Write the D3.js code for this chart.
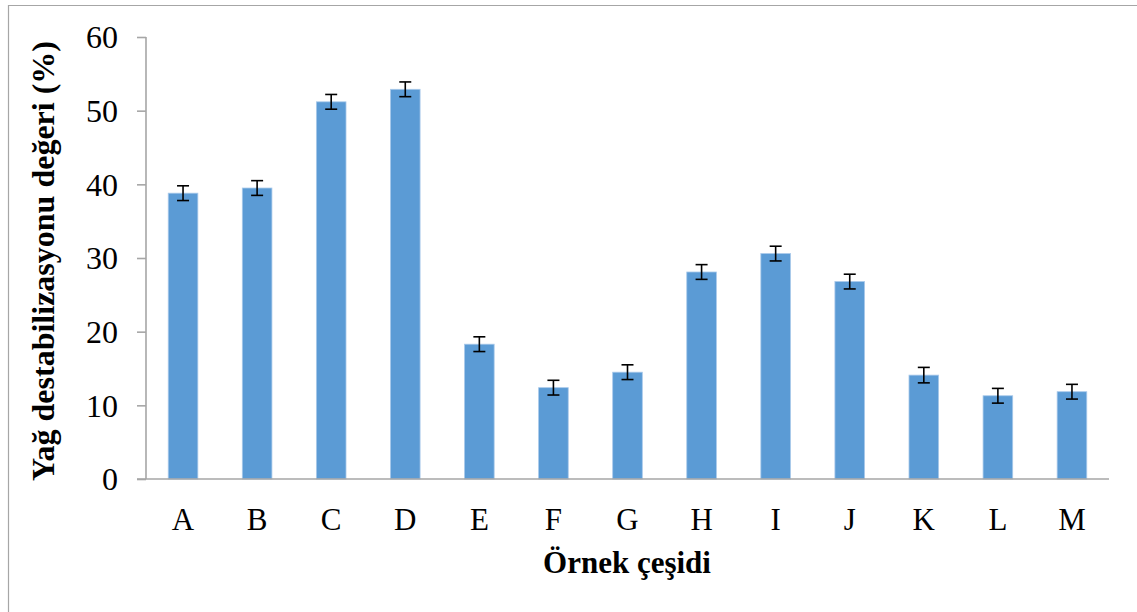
<!DOCTYPE html>
<html>
<head>
<meta charset="utf-8">
<script src="https://cdn.jsdelivr.net/npm/d3@7"></script>
<style>
  html, body { margin: 0; padding: 0; background: #fff; }
  svg { display: block; }
  text { font-family: "Liberation Serif", "Times New Roman", serif; fill: #000; }
</style>
</head>
<body>
<svg id="chart" width="1137" height="612"></svg>
<script>
const categories = ["A","B","C","D","E","F","G","H","I","J","K","L","M"];
const values = [38.8, 39.5, 51.2, 52.9, 18.3, 12.4, 14.5, 28.1, 30.6, 26.8, 14.1, 11.3, 11.85];
const errors = [1.0, 1.0, 1.0, 1.0, 1.0, 1.0, 1.0, 1.0, 1.0, 1.0, 1.05, 1.0, 1.0];
const yTicks = [0, 10, 20, 30, 40, 50, 60];
const yTitle = "Yağ destabilizasyonu değeri (%)";
const xTitle = "Örnek çeşidi";

const svg = d3.select("#chart");
const W = 1137, H = 612;
const mLeft = 146, mRight = 1109, mTop = 37, mBottom = 479;
const serif = "'Liberation Serif', 'Times New Roman', serif";

// outer frame
svg.append("path")
  .attr("d", `M8.5,${H + 2} L8.5,5.5 L${W + 2},5.5`)
  .attr("fill", "none").attr("stroke", "#a6a6a6").attr("stroke-width", 1.2);

const x = d3.scaleBand().domain(categories).range([mLeft, mRight]).paddingInner(0.6).paddingOuter(0.3);
const y = d3.scaleLinear().domain([0, 60]).range([mBottom, mTop]);

// bars
svg.append("g").selectAll("rect").data(values).join("rect")
  .attr("x", (d, i) => x(categories[i]))
  .attr("y", d => y(d))
  .attr("width", x.bandwidth())
  .attr("height", d => y(0) - y(d))
  .attr("fill", "#5b9bd5")
  .attr("stroke", "#a9c9ea").attr("stroke-width", 0.8);

// error bars
const eg = svg.append("g").attr("stroke", "#000").attr("stroke-width", 1.6);
values.forEach((v, i) => {
  const cx = x(categories[i]) + x.bandwidth() / 2;
  const y1 = y(v + errors[i]), y2 = y(v - errors[i]);
  eg.append("line").attr("x1", cx).attr("x2", cx).attr("y1", y1).attr("y2", y2);
  eg.append("line").attr("x1", cx - 6).attr("x2", cx + 6).attr("y1", y1).attr("y2", y1);
  eg.append("line").attr("x1", cx - 6).attr("x2", cx + 6).attr("y1", y2).attr("y2", y2);
});

// y axis
const yAxis = svg.append("g").attr("transform", `translate(${mLeft},0)`)
  .call(d3.axisLeft(y).tickValues(yTicks).tickSize(9).tickPadding(19).tickFormat(d3.format("d")));
yAxis.attr("font-family", serif).attr("font-size", 32);
yAxis.select(".domain").attr("stroke", "#a6a6a6").attr("stroke-width", 1.6).attr("d", `M0,${mTop}V${mBottom}`);
yAxis.selectAll(".tick line").attr("stroke", "#a6a6a6").attr("stroke-width", 1.6);
yAxis.selectAll(".tick text").style("font-family", serif).style("font-size", "32px").attr("fill", "#000").attr("dy", "0.34em");

// x axis
const xAxis = svg.append("g").attr("transform", `translate(0,${mBottom})`)
  .call(d3.axisBottom(x).tickSize(0).tickPadding(0));
xAxis.attr("font-family", serif).attr("font-size", 31);
xAxis.select(".domain").attr("stroke", "#a6a6a6").attr("stroke-width", 1.6).attr("d", `M${mLeft - 9},0H${mRight}`);
xAxis.selectAll(".tick text").style("font-family", serif).style("font-size", "31px").attr("fill", "#000")
  .attr("y", 51).attr("dy", 0);

// titles
svg.append("text").attr("x", 627).attr("y", 573).attr("text-anchor", "middle")
  .style("font-family", serif).style("font-size", "31px").attr("font-weight", "bold").text(xTitle);
svg.append("text").attr("transform", `translate(54,${(mTop + mBottom) / 2 + 3}) rotate(-90)`)
  .attr("text-anchor", "middle").style("font-family", serif).style("font-size", "32px").attr("font-weight", "bold").text(yTitle);
</script>
</body>
</html>
